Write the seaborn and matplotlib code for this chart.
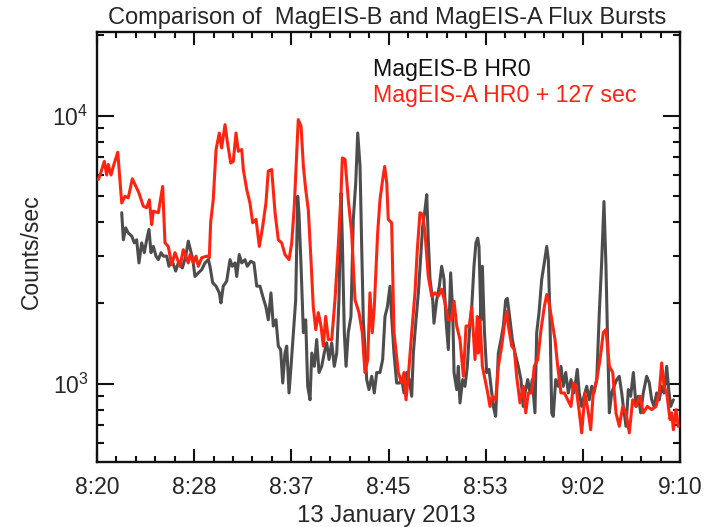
import numpy as np
import pandas as pd
import seaborn as sns
import matplotlib
matplotlib.use("Agg")
import matplotlib.pyplot as plt
from matplotlib.ticker import FixedLocator, MultipleLocator, LogLocator, NullFormatter

# minutes after 08:20 UT
time_a = [0.11, 0.26, 0.63, 0.83, 0.97, 1.20, 1.40, 1.78, 1.97, 2.12, 2.40, 2.68, 3.03, 3.26, 3.60,
          3.97, 4.26, 4.49, 4.69, 4.83, 5.26, 5.63, 5.83, 6.11, 6.41, 6.69, 7.12, 7.40, 7.83, 7.98,
          8.26, 8.49, 8.69, 8.98, 9.41, 9.63, 9.75, 9.97, 10.21, 10.49, 10.69, 10.98, 11.17, 11.47,
          11.69, 11.92, 12.12, 12.41, 12.55, 12.84, 13.12, 13.35, 13.64, 13.92, 14.21, 14.49, 14.69,
          14.98, 15.27, 15.55, 15.84, 16.12, 16.47, 16.70, 16.92, 17.13, 17.26, 17.50, 17.70, 17.90,
          18.12, 18.35, 18.55, 18.76, 18.98, 19.21, 19.41, 19.61, 19.84, 20.13, 20.41, 20.69, 20.93,
          21.04, 21.27, 21.55, 21.84, 22.13, 22.47, 22.75, 22.98, 23.22, 23.41, 23.61, 23.78, 24.07,
          24.27, 24.50, 24.67, 24.85, 24.98, 25.27, 25.47, 25.84, 26.13, 26.33, 26.50, 26.70, 26.99,
          27.27, 27.47, 27.70, 27.93, 28.13, 28.41, 28.71, 28.99, 29.27, 29.56, 29.85, 30.13, 30.42,
          30.62, 30.85, 31.13, 31.42, 31.65, 31.93, 32.14, 32.42, 32.62, 32.70, 32.85, 33.05, 33.28,
          33.51, 33.70, 33.90, 34.19, 34.42, 34.71, 34.99, 35.14, 35.28, 35.57, 35.79, 35.99, 36.28,
          36.56, 36.77, 36.99, 37.28, 37.50, 37.80, 38.08, 38.36, 38.57, 38.77, 39.05, 39.28, 39.51,
          39.79, 40.08, 40.37, 40.65, 40.88, 41.08, 41.37, 41.57, 41.85, 42.14, 42.34, 42.56, 42.86,
          43.14, 43.42, 43.65, 43.94, 44.23, 44.51, 44.79, 45.09, 45.37, 45.65, 45.94, 46.23, 46.57,
          46.85, 47.20, 47.57, 47.94, 48.22, 48.43, 48.63, 48.86, 49.14, 49.29, 49.43, 49.66, 49.85]
counts_a = [5770, 6000, 6750, 6000, 6570, 6000, 6460, 7300, 5690, 4720, 5000, 4930, 5810, 5530, 5140,
            4590, 4530, 4850, 3920, 4400, 4340, 5440, 3350, 3250, 2780, 3080, 2740, 3160, 2820, 3030,
            2820, 2990, 2740, 2950, 2990, 2950, 4010, 4860, 7470, 8610, 7570, 9250, 8020, 6650,
            6750, 8610, 7360, 7470, 6290, 5300, 4720, 3980, 4100, 3250, 3860, 4720, 6210,
            6290, 4340, 3440, 3350, 3030, 2900, 3350, 4590, 7260, 9660, 9120, 6460, 5300,
            4460, 2900, 1930, 1590, 1840, 1640, 1380, 1780, 1460, 1460, 2050, 3250, 5140,
            6950, 6870, 4860, 3650, 2050, 1840, 1550, 1100, 1230, 2180, 1550, 1930, 3650,
            4860, 5770, 6460, 5610, 4100, 3980, 1550, 1100, 1005, 1100, 870, 1065, 1550,
            2180, 3160, 4340, 4280, 3650, 2510, 2120, 2180, 2120, 2250, 2000, 1730, 1730,
            2030, 1640, 1460, 1065, 1640, 1640, 1930, 1230, 1780, 1300, 1730, 1160, 1035,
            923, 822, 897, 870, 1160, 1380, 1730, 1860, 1640, 1380, 1340, 1065, 847,
            977, 778, 923, 923, 1160, 1230, 1590, 1930, 2150, 2000, 1680, 1460, 1160,
            923, 923, 870, 822, 1005, 977, 778, 655, 923, 778, 673, 923, 1035,
            1230, 1550, 1590, 1160, 1100, 778, 693, 822, 778, 655, 870, 822, 897,
            778, 822, 800, 822, 923, 1195, 977, 923, 735, 778, 673, 800, 693]

time_b = [2.12, 2.26, 2.46, 2.68, 2.98, 3.20, 3.40, 3.60, 3.83, 4.06, 4.26, 4.46, 4.63, 4.83, 5.06,
          5.26, 5.49, 5.69, 5.98, 6.17, 6.41, 6.75, 6.97, 7.32, 7.61, 7.83, 8.22, 8.40, 8.69, 8.98,
          9.26, 9.55, 9.69, 9.92, 10.21, 10.49, 10.63, 10.83, 11.12, 11.41, 11.60, 11.84, 11.98,
          12.20, 12.41, 12.69, 12.89, 13.18, 13.46, 13.70, 13.98, 14.21, 14.49, 14.69, 14.92, 15.12,
          15.35, 15.55, 15.75, 15.93, 16.12, 16.27, 16.47, 16.64, 16.84, 17.04, 17.21, 17.32, 17.50,
          17.70, 17.90, 18.07, 18.27, 18.42, 18.64, 18.84, 19.04, 19.27, 19.49, 19.70, 19.90, 20.13,
          20.35, 20.56, 20.75, 20.93, 21.04, 21.21, 21.36, 21.55, 21.78, 21.98, 22.19, 22.36, 22.56,
          22.70, 22.84, 23.13, 23.33, 23.56, 23.78, 23.99, 24.27, 24.50, 24.70, 24.90, 25.13, 25.27,
          25.47, 25.70, 25.93, 26.13, 26.33, 26.56, 26.78, 26.99, 27.13, 27.36, 27.56, 27.76, 27.93,
          28.13, 28.28, 28.41, 28.56, 28.79, 28.90, 29.13, 29.36, 29.56, 29.76, 29.93, 30.13, 30.33,
          30.51, 30.62, 30.85, 30.99, 31.13, 31.36, 31.56, 31.76, 31.93, 32.14, 32.33, 32.50, 32.65,
          32.76, 32.93, 33.05, 33.22, 33.42, 33.62, 33.79, 33.99, 34.19, 34.42, 34.65, 34.85, 35.05,
          35.19, 35.42, 35.62, 35.85, 36.13, 36.36, 36.56, 36.71, 36.94, 37.14, 37.33, 37.56, 37.71,
          37.91, 38.14, 38.36, 38.57, 38.71, 38.85, 39.00, 39.13, 39.34, 39.56, 39.79, 39.99, 40.20,
          40.42, 40.65, 40.88, 40.99, 41.19, 41.36, 41.57, 41.77, 42.00, 42.22, 42.43, 42.62, 42.86,
          43.08, 43.28, 43.48, 43.65, 43.77, 43.94, 44.14, 44.34, 44.57, 44.79, 45.00, 45.14, 45.37,
          45.57, 45.77, 46.00, 46.23, 46.43, 46.63, 46.85, 47.14, 47.37, 47.57, 47.77, 48.00, 48.22,
          48.43, 48.63, 48.86, 49.03, 49.20, 49.43]
counts_b = [4340, 3440, 3810, 3650, 3550, 3350, 3440, 2820, 3350, 3080, 3440, 3760, 3080, 3250, 2990,
            2900, 3080, 2990, 2990, 2740, 2900, 2630, 2820, 2700, 2990, 3400, 2900, 2510, 2590, 2660,
            2820, 2900, 2740, 2380, 2310, 2180, 2000, 2310, 2410, 2900, 2740, 2820, 2510,
            3030, 2820, 2900, 2740, 2860, 2820, 2310, 2310, 2120, 1930, 1730, 2180, 1640,
            1730, 1380, 1340, 1005, 1300, 1380, 923, 1160, 1550, 2050, 5000, 4340, 2740,
            1550, 1730, 977, 870, 1300, 1160, 1460, 1100, 1160, 1300, 1420, 1230, 1420,
            1160, 1300, 2050, 5140, 3440, 1550, 1160, 1550, 1780, 4100, 5610, 8610, 6460,
            3250, 1730, 1035, 950, 1065, 923, 1100, 1100, 1230, 1780, 1930, 2310, 1780,
            1300, 1005, 1005, 1035, 923, 1100, 1035, 897, 1300, 1730, 2180, 2990, 3860,
            4460, 5070, 3440, 2450, 2050, 1680, 2050, 2310, 2740, 2450, 1730, 1340, 2590,
            1840, 1100, 950, 1160, 847, 1035, 977, 1160, 1550, 1930, 2740, 3350, 3490,
            3250, 1730, 2740, 1590, 1100, 1130, 977, 822, 755, 1300, 1460, 1640, 2050,
            2080, 1730, 1460, 1300, 1160, 1035, 822, 923, 1035, 923, 1035, 778, 1550,
            1840, 2450, 2820, 3250, 2900, 1730, 778, 755, 1035, 977, 1160, 977, 1100,
            923, 1035, 923, 977, 1130, 923, 822, 897, 977, 870, 977, 923, 1035,
            1840, 2820, 4780, 2740, 1590, 778, 923, 977, 1035, 1065, 923, 822, 693,
            950, 897, 1100, 822, 897, 778, 923, 1065, 1005, 870, 822, 923, 870,
            977, 923, 1160, 950, 822, 870]

tick_pos = [0, 50 / 6, 100 / 6, 25, 200 / 6, 250 / 6, 50]
tick_labels = ["8:20", "8:28", "8:37", "8:45", "8:53", "9:02", "9:10"]

df_a = pd.DataFrame({"t": time_a, "c": counts_a})
df_b = pd.DataFrame({"t": time_b, "c": counts_b})

sns.set_style("ticks")
plt.rcParams["font.family"] = ["Liberation Sans", "DejaVu Sans"]

fig = plt.figure(figsize=(7.07, 5.27), dpi=100)
ax = fig.add_axes([97 / 707, 65 / 527, 583 / 707, 430 / 527])

sns.lineplot(data=df_b, x="t", y="c", ax=ax, color="#4d4d4d", linewidth=2.2,
             estimator=None, sort=False, zorder=2)
sns.lineplot(data=df_a, x="t", y="c", ax=ax, color="#ff2410", linewidth=2.2,
             estimator=None, sort=False, zorder=3)

ax.set_yscale("log")
ax.set_ylim(510, 20500)
ax.set_xlim(0, 50)

ax.xaxis.set_major_locator(FixedLocator(tick_pos))
ax.set_xticklabels(tick_labels)
ax.xaxis.set_minor_locator(MultipleLocator(50 / 30))
ax.yaxis.set_major_locator(LogLocator(base=10, numticks=10))
ax.yaxis.set_minor_locator(LogLocator(base=10, subs=np.arange(2, 10), numticks=20))
ax.yaxis.set_minor_formatter(NullFormatter())

for s in ax.spines.values():
    s.set_visible(True)
    s.set_linewidth(1.7)
    s.set_color("#111111")

ax.tick_params(axis="both", which="both", direction="in", top=True, right=True,
               color="#111111", width=1.5)
ax.tick_params(axis="x", which="major", length=9.5, labelsize=16.5, pad=10)
ax.tick_params(axis="x", which="minor", length=4)
ax.tick_params(axis="y", which="major", length=12, labelsize=16.5, pad=6)
ax.tick_params(axis="y", which="minor", length=5)
ax.grid(False)

ax.set_xlabel("")
ax.set_ylabel("")
fig.text(0.045, 0.522, "Counts/sec", rotation=90, ha="center", va="center", fontsize=16.5)
fig.text(0.546, 0.021, "13 January 2013", ha="center", va="center", fontsize=17.3)
fig.text(0.548, 0.966, "Comparison of  MagEIS-B and MagEIS-A Flux Bursts",
         ha="center", va="center", fontsize=17)

ax.text(0.473, 0.912, "MagEIS-B HR0", transform=ax.transAxes, ha="left", va="center",
        fontsize=16.7, color="#111111")
ax.text(0.473, 0.853, "MagEIS-A HR0 + 127 sec", transform=ax.transAxes, ha="left",
        va="center", fontsize=16.7, color="#ff2410")

fig.savefig("out.png", dpi=100, facecolor="white")
